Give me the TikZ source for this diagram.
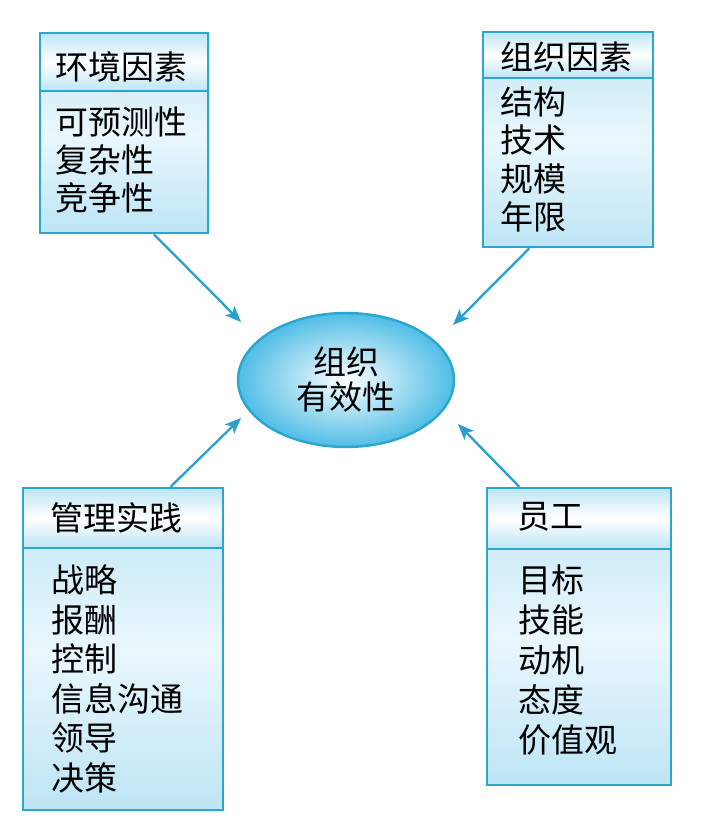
\documentclass[tikz,border=0pt]{standalone}
\usepackage{fontspec}
\setmainfont{Noto Sans CJK SC}
\usetikzlibrary{arrows.meta,shapes.geometric,calc}
\definecolor{boxline}{HTML}{2BA6CF}
\definecolor{bodyc}{HTML}{BDE5F5}
\definecolor{lightc}{HTML}{EAF7FC}
\definecolor{arrowc}{HTML}{2A9FD2}
\definecolor{ellc}{HTML}{4FBDE6}
\tikzset{
  bodybox/.style={draw=boxline, line width=2.4pt, top color=bodyc, bottom color=bodyc, middle color=lightc, inner sep=0pt},
  headbox/.style={draw=boxline, line width=2.4pt, top color=bodyc, bottom color=bodyc, middle color=white, inner sep=0pt},
  txt/.style={anchor=west, inner sep=0pt, align=left, text=black},
  conn/.style={draw=arrowc, line width=2.3pt, -{Stealth[length=16pt,width=13pt,inset=4pt]}}
}
\begin{document}
\begin{tikzpicture}[x=1pt,y=-1pt]
\useasboundingbox (0,0) rectangle (706,833);
\fill[white] (0,0) rectangle (706,833);
% box 1
\node[bodybox, minimum width=168pt, minimum height=200pt] (env) at (124,133) {};
\node[headbox, minimum width=168pt, minimum height=58pt] (envh) at (124,62) {};
\node[txt, font=\fontsize{33}{38}\selectfont] (envt) at (55,67) {环境因素};
\node[txt, font=\fontsize{33}{38}\selectfont] (envb) at (55,160) {可预测性\\复杂性\\竞争性};
% box 2
\node[bodybox, minimum width=170pt, minimum height=215pt] (org) at (568,139.5) {};
\node[headbox, minimum width=170pt, minimum height=46pt] (orgh) at (568,55) {};
\node[txt, font=\fontsize{33}{38}\selectfont] (orgt) at (500,57) {组织因素};
\node[txt, font=\fontsize{33}{38.3}\selectfont] (orgb) at (500,159.5) {结构\\技术\\规模\\年限};
% box 3
\node[bodybox, minimum width=200pt, minimum height=322pt] (mgt) at (123,649) {};
\node[headbox, minimum width=200pt, minimum height=60pt] (mgth) at (123,518) {};
\node[txt, font=\fontsize{33}{38}\selectfont] (mgtt) at (50,518) {管理实践};
\node[txt, font=\fontsize{33}{39.6}\selectfont] (mgtb) at (51,679) {战略\\报酬\\控制\\信息沟通\\领导\\决策};
% box 4
\node[bodybox, minimum width=184pt, minimum height=297pt] (emp) at (579,636.5) {};
\node[headbox, minimum width=184pt, minimum height=61pt] (emph) at (579,518.5) {};
\node[txt, font=\fontsize{33}{38}\selectfont] (empt) at (517,517) {员工};
\node[txt, font=\fontsize{33}{40}\selectfont] (empb) at (518,660) {目标\\技能\\动机\\态度\\价值观};
% ellipse
\node[ellipse, draw=boxline, line width=2.4pt, inner color=white, outer color=ellc,
      minimum width=216pt, minimum height=134pt, inner sep=0pt] (eff) at (346,380) {};
\node[align=center, inner sep=0pt, text=black, font=\fontsize{33}{35}\selectfont] (efft) at (346,380) {组织\\有效性};
% arrow tips
\coordinate (t1) at (241,322);
\coordinate (t2) at (453,325);
\coordinate (t3) at (241,418);
\coordinate (t4) at (458,424);
\draw[conn] ($(env.south west)!0.675!(env.south east)$) -- (t1);
\draw[conn] ($(org.south west)!0.276!(org.south east)$) -- (t2);
\draw[conn] ($(mgt.north west)!0.735!(mgt.north east)$) -- (t3);
\draw[conn] ($(emp.north west)!0.18!(emp.north east)$) -- (t4);
\end{tikzpicture}
\end{document}
